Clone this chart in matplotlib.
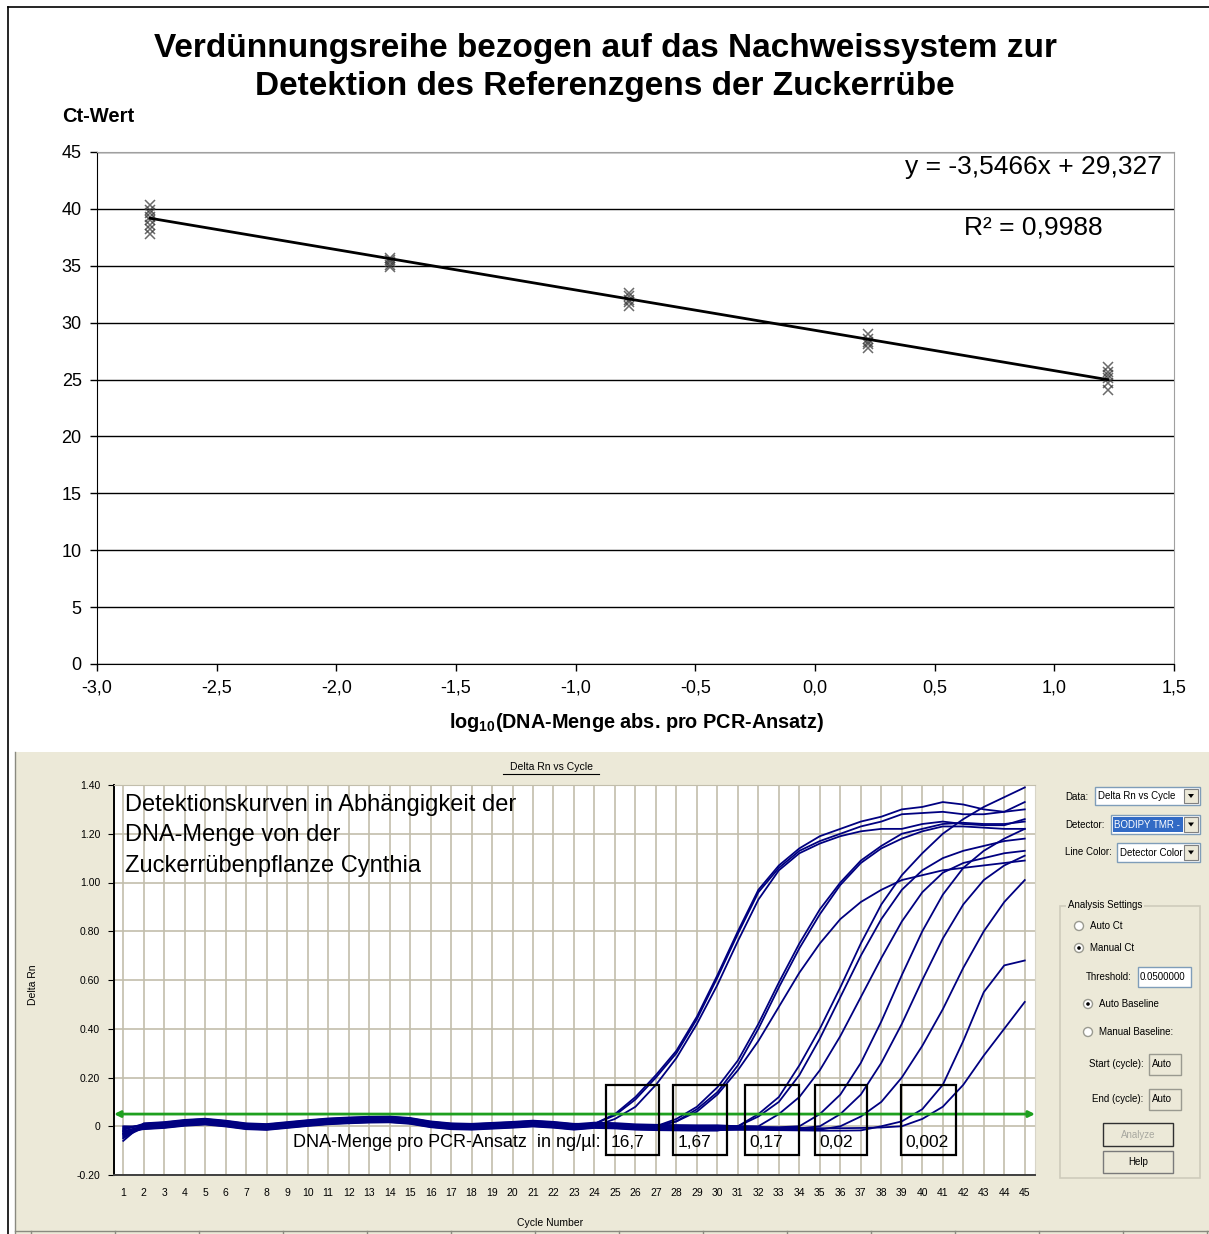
import matplotlib
matplotlib.use("Agg")
import matplotlib.pyplot as plt
from matplotlib.patches import Rectangle, Circle, Polygon
import numpy as np

plt.rcParams["font.family"] = ["Liberation Sans", "DejaVu Sans"]
plt.rcParams["mathtext.fontset"] = "custom"
plt.rcParams["mathtext.rm"] = "Liberation Sans"
plt.rcParams["mathtext.bf"] = "Liberation Sans:bold"

NARROW = ["Liberation Sans Narrow", "Liberation Sans"]

# ---- standard curve: Ct against log10 of DNA amount ----
dna_amount = [16.7, 1.67, 0.167, 0.0167, 0.00167]
ct_16_7 = [26.1, 25.7, 25.4, 25.1, 24.7, 24.1]
ct_1_67 = [29.0, 28.6, 28.3, 28.1, 27.8]
ct_0_17 = [32.6, 32.3, 32.0, 31.8, 31.5]
ct_0_017 = [35.7, 35.5, 35.3, 35.1, 34.9]
ct_0_0017 = [40.3, 39.9, 39.6, 39.3, 39.0, 38.6, 38.2, 37.8]
slope = -3.5466
intercept = 29.327
r_squared = 0.9988

# ---- amplification plot (Delta Rn per cycle) ----
cycles = list(range(1, 46))
baseline = [-0.025, 0.0, 0.005, 0.014, 0.019, 0.011, 0.0, -0.003, 0.005, 0.013,
            0.02, 0.024, 0.027, 0.028, 0.022, 0.008, 0.0, -0.002, 0.002, 0.006,
            0.011, 0.006, -0.002, 0.005, 0.003, -0.002, -0.004, -0.005, -0.006, -0.006,
            -0.005, -0.005, -0.006, -0.007, -0.008, -0.008, -0.007, -0.005, -0.003, -0.002,
            0.0, 0.0, 0.0, 0.0, 0.0]

rise_a1 = [0.01, 0.05, 0.12, 0.21, 0.31, 0.45, 0.62, 0.80, 0.97, 1.07, 1.14,
           1.19, 1.22, 1.25, 1.27, 1.30, 1.31, 1.33, 1.32, 1.30, 1.29, 1.33]
rise_a2 = [0.01, 0.045, 0.11, 0.20, 0.30, 0.44, 0.61, 0.79, 0.96, 1.06, 1.13,
           1.17, 1.20, 1.23, 1.25, 1.28, 1.285, 1.29, 1.28, 1.28, 1.29, 1.30]
rise_a3 = [0.0, 0.03, 0.08, 0.17, 0.28, 0.42, 0.58, 0.76, 0.93, 1.05, 1.12,
           1.16, 1.19, 1.21, 1.22, 1.22, 1.24, 1.25, 1.24, 1.235, 1.235, 1.26]
rise_b1 = [0.0, 0.03, 0.08, 0.16, 0.27, 0.42, 0.59, 0.75, 0.89, 1.00, 1.09,
           1.15, 1.20, 1.22, 1.24, 1.245, 1.24, 1.24, 1.25]
rise_b2 = [0.0, 0.02, 0.07, 0.14, 0.25, 0.40, 0.57, 0.73, 0.87, 0.99, 1.08,
           1.14, 1.18, 1.21, 1.23, 1.23, 1.225, 1.22, 1.22]
rise_b3 = [0.0, 0.02, 0.06, 0.13, 0.23, 0.35, 0.49, 0.63, 0.75, 0.85, 0.92,
           0.97, 1.01, 1.03, 1.05, 1.06, 1.07, 1.08, 1.09]
rise_c1 = [0.0, 0.05, 0.12, 0.25, 0.40, 0.57, 0.75, 0.91, 1.03, 1.12, 1.20,
           1.26, 1.31, 1.35, 1.39]
rise_c2 = [0.0, 0.04, 0.10, 0.21, 0.36, 0.53, 0.70, 0.85, 0.97, 1.05, 1.10,
           1.13, 1.15, 1.17, 1.18]
rise_c3 = [0.0, 0.05, 0.12, 0.23, 0.37, 0.53, 0.69, 0.84, 0.96, 1.04, 1.08,
           1.10, 1.12, 1.13]
rise_d1 = [0.0, 0.05, 0.13, 0.26, 0.43, 0.62, 0.80, 0.95, 1.06, 1.13, 1.18, 1.22]
rise_d2 = [0.0, 0.05, 0.13, 0.26, 0.42, 0.60, 0.77, 0.91, 1.01, 1.07, 1.11]
rise_d3 = [0.0, 0.04, 0.10, 0.20, 0.33, 0.48, 0.65, 0.80, 0.92, 1.01]
rise_e1 = [0.0, 0.02, 0.07, 0.17, 0.35, 0.55, 0.66, 0.68]
rise_e2 = [0.0, 0.03, 0.08, 0.17, 0.29, 0.40, 0.51]

rises = [rise_a1, rise_a2, rise_a3, rise_b1, rise_b2, rise_b3, rise_c1,
         rise_c2, rise_c3, rise_d1, rise_d2, rise_d3, rise_e1, rise_e2]
curve_offset = [0.012, 0.008, 0.004, 0.0, -0.004, -0.008, -0.012,
                0.010, 0.006, 0.002, -0.002, -0.006, -0.010, 0.0]
curve_first = [-0.06, -0.05, -0.04, -0.035, -0.03, -0.025, -0.02,
               -0.015, -0.01, -0.005, 0.0, -0.045, -0.03, -0.02]

threshold = 0.05
dilution_labels = ["16,7", "1,67", "0,17", "0,02", "0,002"]
box_left = [24.56, 27.83, 31.34, 34.76, 38.95]
box_right = [27.15, 30.46, 33.98, 37.29, 41.63]

W, H = 1209, 1234
fig = plt.figure(figsize=(W / 100, H / 100), dpi=100)
fig.patch.set_facecolor("white")


def px_axes(left, top, right, bottom, **kw):
    return fig.add_axes([left / W, 1 - bottom / H, (right - left) / W, (bottom - top) / H], **kw)


bg = px_axes(0, 0, W, H, zorder=-10)
bg.set_xlim(0, W)
bg.set_ylim(H, 0)
bg.axis("off")
fg = px_axes(0, 0, W, H, zorder=10)
fg.set_xlim(0, W)
fg.set_ylim(H, 0)
fg.axis("off")

# page frame and beige software window
bg.plot([8, 8], [7, H], color="black", lw=1.2)
bg.plot([8, W], [7, 7], color="black", lw=1.2)
bg.add_patch(Rectangle((15, 752), W - 15, H - 752, fc="#ECE9D8", ec="none"))
bg.plot([15, 15], [752, H], color="#8A8A80", lw=1)
bg.plot([15, W], [1231, 1231], color="#8A8A80", lw=1)
for xs in range(31, W, 84):
    bg.plot([xs, xs], [1231, H], color="#8A8A80", lw=1)

# ================= top: standard curve =================
ax1 = px_axes(97, 152, 1174, 664)
log_x = np.log10(dna_amount)
for xv, cts in zip(log_x, [ct_16_7, ct_1_67, ct_0_17, ct_0_017, ct_0_0017]):
    ax1.plot([xv] * len(cts), cts, ls="none", marker="x", ms=7, mew=1.1,
             color="#3A3A3A", alpha=0.75, zorder=4)
fit_x = np.array([log_x.min(), log_x.max()])
ax1.plot(fit_x, slope * fit_x + intercept, color="black", lw=2, zorder=5)

ax1.set_xlim(-3.0, 1.5)
ax1.set_ylim(0, 45)
ax1.set_yticks(range(0, 46, 5))
ax1.set_yticklabels([str(v) for v in range(0, 46, 5)])
xt = np.arange(-3.0, 1.51, 0.5)
ax1.set_xticks(xt)
ax1.set_xticklabels([f"{v:.1f}".replace(".", ",") for v in xt])
ax1.grid(axis="y", color="black", lw=1)
ax1.set_axisbelow(True)
ax1.tick_params(direction="out", length=5, width=1, labelsize=13, pad=6)
for lab in ax1.get_xticklabels() + ax1.get_yticklabels():
    lab.set_family(NARROW)
ax1.spines["left"].set_color("black")
ax1.spines["bottom"].set_color("black")
ax1.spines["top"].set_color("#A0A0A0")
ax1.spines["right"].set_color("#A0A0A0")

fg.text(605, 48, "Verdünnungsreihe bezogen auf das Nachweissystem zur",
        ha="center", va="center", fontsize=24, fontweight="bold")
fg.text(605, 87, "Detektion des Referenzgens der Zuckerrübe",
        ha="center", va="center", fontsize=24, fontweight="bold")
fg.text(62, 117, "Ct-Wert", ha="left", va="center", fontsize=14.5, fontweight="bold")
fg.text(637, 723, r"log$_\mathbf{10}$(DNA-Menge abs. pro PCR-Ansatz)",
        ha="center", va="center", fontsize=14.3, fontweight="bold")
fg.text(1162, 167, "y = " + f"{slope:.4f}".replace(".", ",") + "x + "
        + f"{intercept:.3f}".replace(".", ","),
        ha="right", va="center", fontsize=19)
fg.text(964, 228, "R² = " + f"{r_squared:.4f}".replace(".", ","),
        ha="left", va="center", fontsize=19)

# ================= bottom: amplification plot =================
ax2 = px_axes(114, 785, 1035, 1175)
ax2.set_facecolor("white")
for rise, off, first in zip(rises, curve_offset, curve_first):
    start = 46 - len(rise)
    flat = [first] + [b + off for b in baseline[1:start - 1]]
    ax2.plot(cycles, flat + rise, color="#000080", lw=1.3, zorder=3)

ax2.annotate("", xy=(0.55, threshold), xytext=(45.5, threshold),
             arrowprops=dict(arrowstyle="<|-|>", color="#1FA01F", lw=2,
                             mutation_scale=9, shrinkA=0, shrinkB=0), zorder=4)

for x0, x1, lab in zip(box_left, box_right, dilution_labels):
    ax2.add_patch(Rectangle((x0, -0.119), x1 - x0, 0.287, fill=False,
                            ec="black", lw=1.6, zorder=5))
    ax2.text(x0 + 0.22, -0.065, lab, ha="left", va="center", fontsize=12.5, zorder=6)
ax2.text(24.27, -0.065, "DNA-Menge pro PCR-Ansatz  in ng/µl:", ha="right",
         va="center", fontsize=13, zorder=6)
ax2.text(1.1, 1.365, "Detektionskurven in Abhängigkeit der\nDNA-Menge von der\n"
         "Zuckerrübenpflanze Cynthia", ha="left", va="top", fontsize=17,
         linespacing=1.5, zorder=6)

ax2.set_xlim(0.55, 45.5)
ax2.set_ylim(-0.2, 1.4)
ax2.set_xticks(cycles)
ax2.set_xticklabels([str(c) for c in cycles])
yt = np.round(np.arange(-0.2, 1.41, 0.2), 2)
ax2.set_yticks(yt)
ax2.set_yticklabels(["0" if v == 0 else f"{v:.2f}" for v in yt])
ax2.grid(color="#C2BEAC", lw=1.2)
ax2.set_axisbelow(True)
ax2.tick_params(axis="x", length=0, pad=9, labelsize=7.5)
ax2.tick_params(axis="y", length=4, pad=6, labelsize=7.5)
for lab in ax2.get_xticklabels() + ax2.get_yticklabels():
    lab.set_family(NARROW)
ax2.spines["left"].set_color("black")
ax2.spines["bottom"].set_color("#404040")
ax2.spines["left"].set_linewidth(1.4)
ax2.spines["bottom"].set_linewidth(1.4)
ax2.spines["top"].set_color("#C2BEAC")
ax2.spines["right"].set_color("#D8D5C8")

fg.text(551, 767, "Delta Rn vs Cycle", ha="center", va="center", fontsize=7.5, family=NARROW)
fg.plot([503, 599], [774, 774], color="black", lw=0.8)
fg.text(33, 985, "Delta Rn", ha="center", va="center", rotation=90, fontsize=7.5, family=NARROW)
fg.text(550, 1223, "Cycle Number", ha="center", va="center", fontsize=7.5, family=NARROW)

# ---- control panel ----
GUI = dict(fontsize=7, family=NARROW, va="center")


def combo(x0, y0, x1, y1, text, highlight=False):
    fg.add_patch(Rectangle((x0, y0), x1 - x0, y1 - y0, fc="white", ec="#7F9DB9", lw=1))
    if highlight:
        fg.add_patch(Rectangle((x0 + 2, y0 + 2), x1 - x0 - 19, y1 - y0 - 4, fc="#316AC5", ec="none"))
    fg.text(x0 + 3, (y0 + y1) / 2, text, color="white" if highlight else "black", **GUI)
    fg.add_patch(Rectangle((x1 - 16, y0 + 2), 14, y1 - y0 - 4, fc="#ECE9D8", ec="#808080", lw=0.8))
    ym = (y0 + y1) / 2
    fg.add_patch(Polygon([(x1 - 12, ym - 2), (x1 - 6, ym - 2), (x1 - 9, ym + 2)],
                         closed=True, fc="black", ec="none"))


def radio(x, y, text, selected=False):
    fg.add_patch(Circle((x, y), 4.5, fc="white", ec="#9A9A90", lw=1))
    if selected:
        fg.add_patch(Circle((x, y), 1.8, fc="black", ec="none"))
    fg.text(x + 11, y, text, **GUI)


def button(x0, y0, x1, y1, text, enabled=True):
    fg.add_patch(Rectangle((x0, y0), x1 - x0, y1 - y0, fc="#ECE9D8",
                           ec="#303030" if not enabled else "#7A7A7A", lw=1))
    fg.text((x0 + x1) / 2, (y0 + y1) / 2, text, ha="center",
            color="black" if enabled else "#A8A8A0", **GUI)


fg.text(1065, 797, "Data:", **GUI)
combo(1095, 787, 1200, 805, "Delta Rn vs Cycle")
fg.text(1065, 825, "Detector:", **GUI)
combo(1111, 815, 1200, 834, "BODIPY TMR -", highlight=True)
fg.text(1065, 852, "Line Color:", **GUI)
combo(1117, 843, 1200, 862, "Detector Color")

fg.add_patch(Rectangle((1060, 906), 140, 272, fill=False, ec="#CFCCBC", lw=1.2))
fg.add_patch(Rectangle((1066, 899), 78, 12, fc="#ECE9D8", ec="none"))
fg.text(1068, 905, "Analysis Settings", **GUI)
radio(1079, 926, "Auto Ct")
radio(1079, 948, "Manual Ct", selected=True)
fg.text(1086, 977, "Threshold:", **GUI)
fg.add_patch(Rectangle((1138, 967), 53, 20, fc="white", ec="#7F9DB9", lw=1))
fg.text(1140, 977, "0.0500000", **GUI)
radio(1088, 1004, "Auto Baseline", selected=True)
radio(1088, 1032, "Manual Baseline:")
fg.text(1089, 1064, "Start (cycle):", **GUI)
fg.add_patch(Rectangle((1149, 1054), 32, 21, fc="#ECE9D8", ec="#9A9A90", lw=1))
fg.text(1152, 1064, "Auto", **GUI)
fg.text(1092, 1099, "End (cycle):", **GUI)
fg.add_patch(Rectangle((1149, 1089), 32, 21, fc="#ECE9D8", ec="#9A9A90", lw=1))
fg.text(1152, 1099, "Auto", **GUI)
button(1103, 1123, 1173, 1146, "Analyze", enabled=False)
button(1103, 1151, 1173, 1173, "Help")

fig.savefig("out.png", dpi=100)
